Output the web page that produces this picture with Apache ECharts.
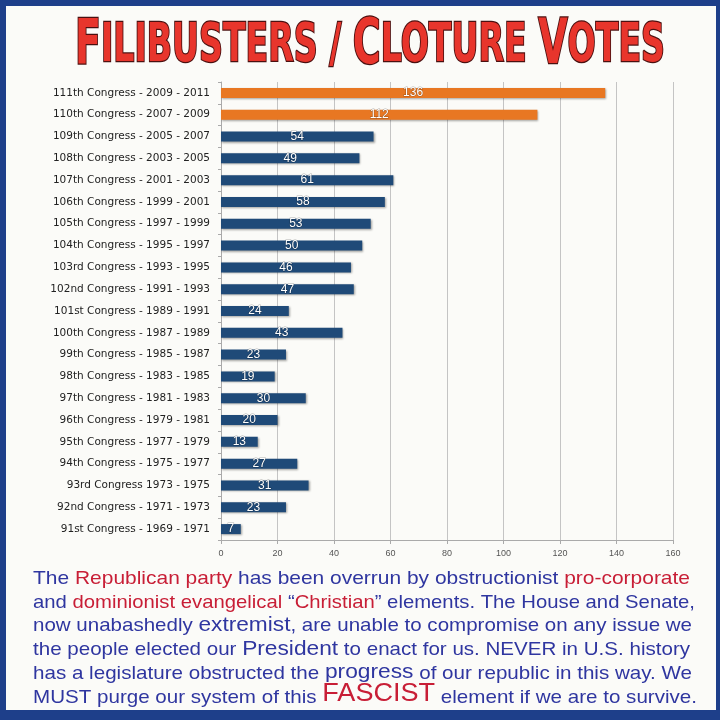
<!DOCTYPE html>
<html><head><meta charset="utf-8">
<script src="https://cdn.jsdelivr.net/npm/echarts@6/dist/echarts.min.js"></script>
<style>html,body{margin:0;padding:0;background:#1e3f8a}#c{width:720px;height:720px}</style>
</head><body><div id="c"></div>
<script>
const categories = [
 "111th Congress - 2009 - 2011","110th Congress - 2007 - 2009","109th Congress - 2005 - 2007",
 "108th Congress - 2003 - 2005","107th Congress - 2001 - 2003","106th Congress - 1999 - 2001",
 "105th Congress - 1997 - 1999","104th Congress - 1995 - 1997","103rd Congress - 1993 - 1995",
 "102nd Congress - 1991 - 1993","101st Congress - 1989 - 1991","100th Congress - 1987 - 1989",
 "99th Congress - 1985 - 1987","98th Congress - 1983 - 1985","97th Congress - 1981 - 1983",
 "96th Congress - 1979 - 1981","95th Congress - 1977 - 1979","94th Congress - 1975 - 1977",
 "93rd Congress 1973 - 1975","92nd Congress - 1971 - 1973","91st Congress - 1969 - 1971"];
const votes = [136,112,54,49,61,58,53,50,46,47,24,43,23,19,30,20,13,27,31,23,7];
const highlighted = [true,true,false,false,false,false,false,false,false,false,false,false,false,false,false,false,false,false,false,false,false];
const xTicks = [0,20,40,60,80,100,120,140,160];

const BLUE='#2f36a0', RED='#c81e36';
const paragraph = [
 [["The ","b"],["Republican party","r"],[" has been overrun by obstructionist ","b"],["pro-corporate","r"]],
 [["and ","b"],["dominionist evangelical ","r"],["\u201C","b"],["Christian","r"],["\u201D elements. The House and Senate,","b"]],
 [["now unabashedly ","b"],["extremist","bb"],[", are unable to compromise on any issue we","b"]],
 [["the people elected our ","b"],["President","bb"],[" to enact for us. NEVER in U.S. history","b"]],
 [["has a legislature obstructed the ","b"],["progress","bb"],[" of our republic in this way. We","b"]],
 [["MUST purge our system of this ","b"],["FASCIST","rr"],[" element if we are to survive.","b"]]
];
const lineRight = [690,695,692,690,692,697];

const FONT='"Liberation Sans", Arial, sans-serif';
const styles = {
 b:{color:BLUE,fontSize:19},
 r:{color:RED,fontSize:19},
 bb:{color:BLUE,fontSize:21},
 rr:{color:RED,fontSize:25}
};
const cv=document.createElement('canvas').getContext('2d');
function w(t,s){cv.font=s+'px "Liberation Sans", Arial, sans-serif';return cv.measureText(t).width;}

const graphics=[
 {type:'rect',shape:{x:6,y:6,width:710,height:704},style:{fill:'#fbfbf8'},z:-10,silent:true}
];
// title
const titleParts=[["F","big"],["ILIBUSTERS / ","sm"],["C","big"],["LOTURE ","sm"],["V","big"],["OTES","sm"]];
const TF='"DejaVu Sans Condensed","DejaVu Sans",sans-serif';
function tw(t,s){cv.font='bold '+s+'px '+TF;return cv.measureText(t).width;}
const tsz={big:62,sm:54};
let titleW=titleParts.reduce((a,p)=>a+tw(p[0],tsz[p[1]]),0);
const titleScale=590/titleW;
graphics.push({type:'text',x:75,y:78,scaleX:titleScale,scaleY:1,silent:true,
 style:{text:titleParts.map(p=>'{'+p[1]+'|'+p[0]+'}').join(''),textVerticalAlign:'bottom',verticalAlign:'bottom',
  rich:{big:{fontFamily:TF,fontWeight:'bold',fontSize:tsz.big,fill:'#e8352c',stroke:'#4a1010',lineWidth:2.5},
        sm:{fontFamily:TF,fontWeight:'bold',fontSize:tsz.sm,fill:'#e8352c',stroke:'#4a1010',lineWidth:2.5}}}});
// paragraph
paragraph.forEach((line,i)=>{
 const total=line.reduce((a,seg)=>a+w(seg[0],styles[seg[1]].fontSize),0);
 const sx=(lineRight[i]-33)/total;
 const rich={};
 Object.keys(styles).forEach(k=>{rich[k]={fontFamily:FONT,fontSize:styles[k].fontSize,lineHeight:styles[k].fontSize,fill:styles[k].color,verticalAlign:'bottom'};});
 graphics.push({type:'text',x:33,y:588+i*23.8,scaleX:sx,silent:true,
  style:{text:line.map(seg=>'{'+seg[1]+'|'+seg[0]+'}').join(''),rich:rich,verticalAlign:'bottom',textVerticalAlign:'bottom'}});
});

const chart=echarts.init(document.getElementById('c'),null,{renderer:'canvas'});
chart.setOption({
 backgroundColor:'#1e3f8a',
 animation:false,
 grid:{left:221,right:47,top:82,bottom:180,containLabel:false},
 xAxis:{type:'value',min:0,max:160,interval:20,
  axisLine:{show:true,lineStyle:{color:'#aaa'}},
  axisTick:{show:true,length:4,lineStyle:{color:'#aaa'}},
  splitLine:{show:true,lineStyle:{color:'#c4c4c4',width:1}},
  axisLabel:{color:'#555',fontSize:9,fontFamily:FONT,margin:9,
   formatter:v=>xTicks.indexOf(v)>=0?String(v):''}},
 yAxis:{type:'category',data:categories,inverse:true,
  axisLine:{show:true,lineStyle:{color:'#aaa'}},
  axisTick:{show:true,length:3,lineStyle:{color:'#aaa'}},
  axisLabel:{color:'#222',fontSize:10.5,fontFamily:'"DejaVu Sans","Lucida Grande",sans-serif',margin:11}},
 series:[{type:'bar',barWidth:10,
  data:votes.map((v,i)=>({value:v,itemStyle:{color:highlighted[i]?'#e87722':'#1f4a78'}})),
  itemStyle:{shadowColor:'rgba(0,0,0,0.35)',shadowBlur:2,shadowOffsetX:1,shadowOffsetY:1},
  label:{show:true,position:'inside',color:'#fff',fontSize:12,fontFamily:FONT,
   textBorderColor:'rgba(0,0,0,0.3)',textBorderWidth:1}}],
 graphic:graphics
});
</script></body></html>
